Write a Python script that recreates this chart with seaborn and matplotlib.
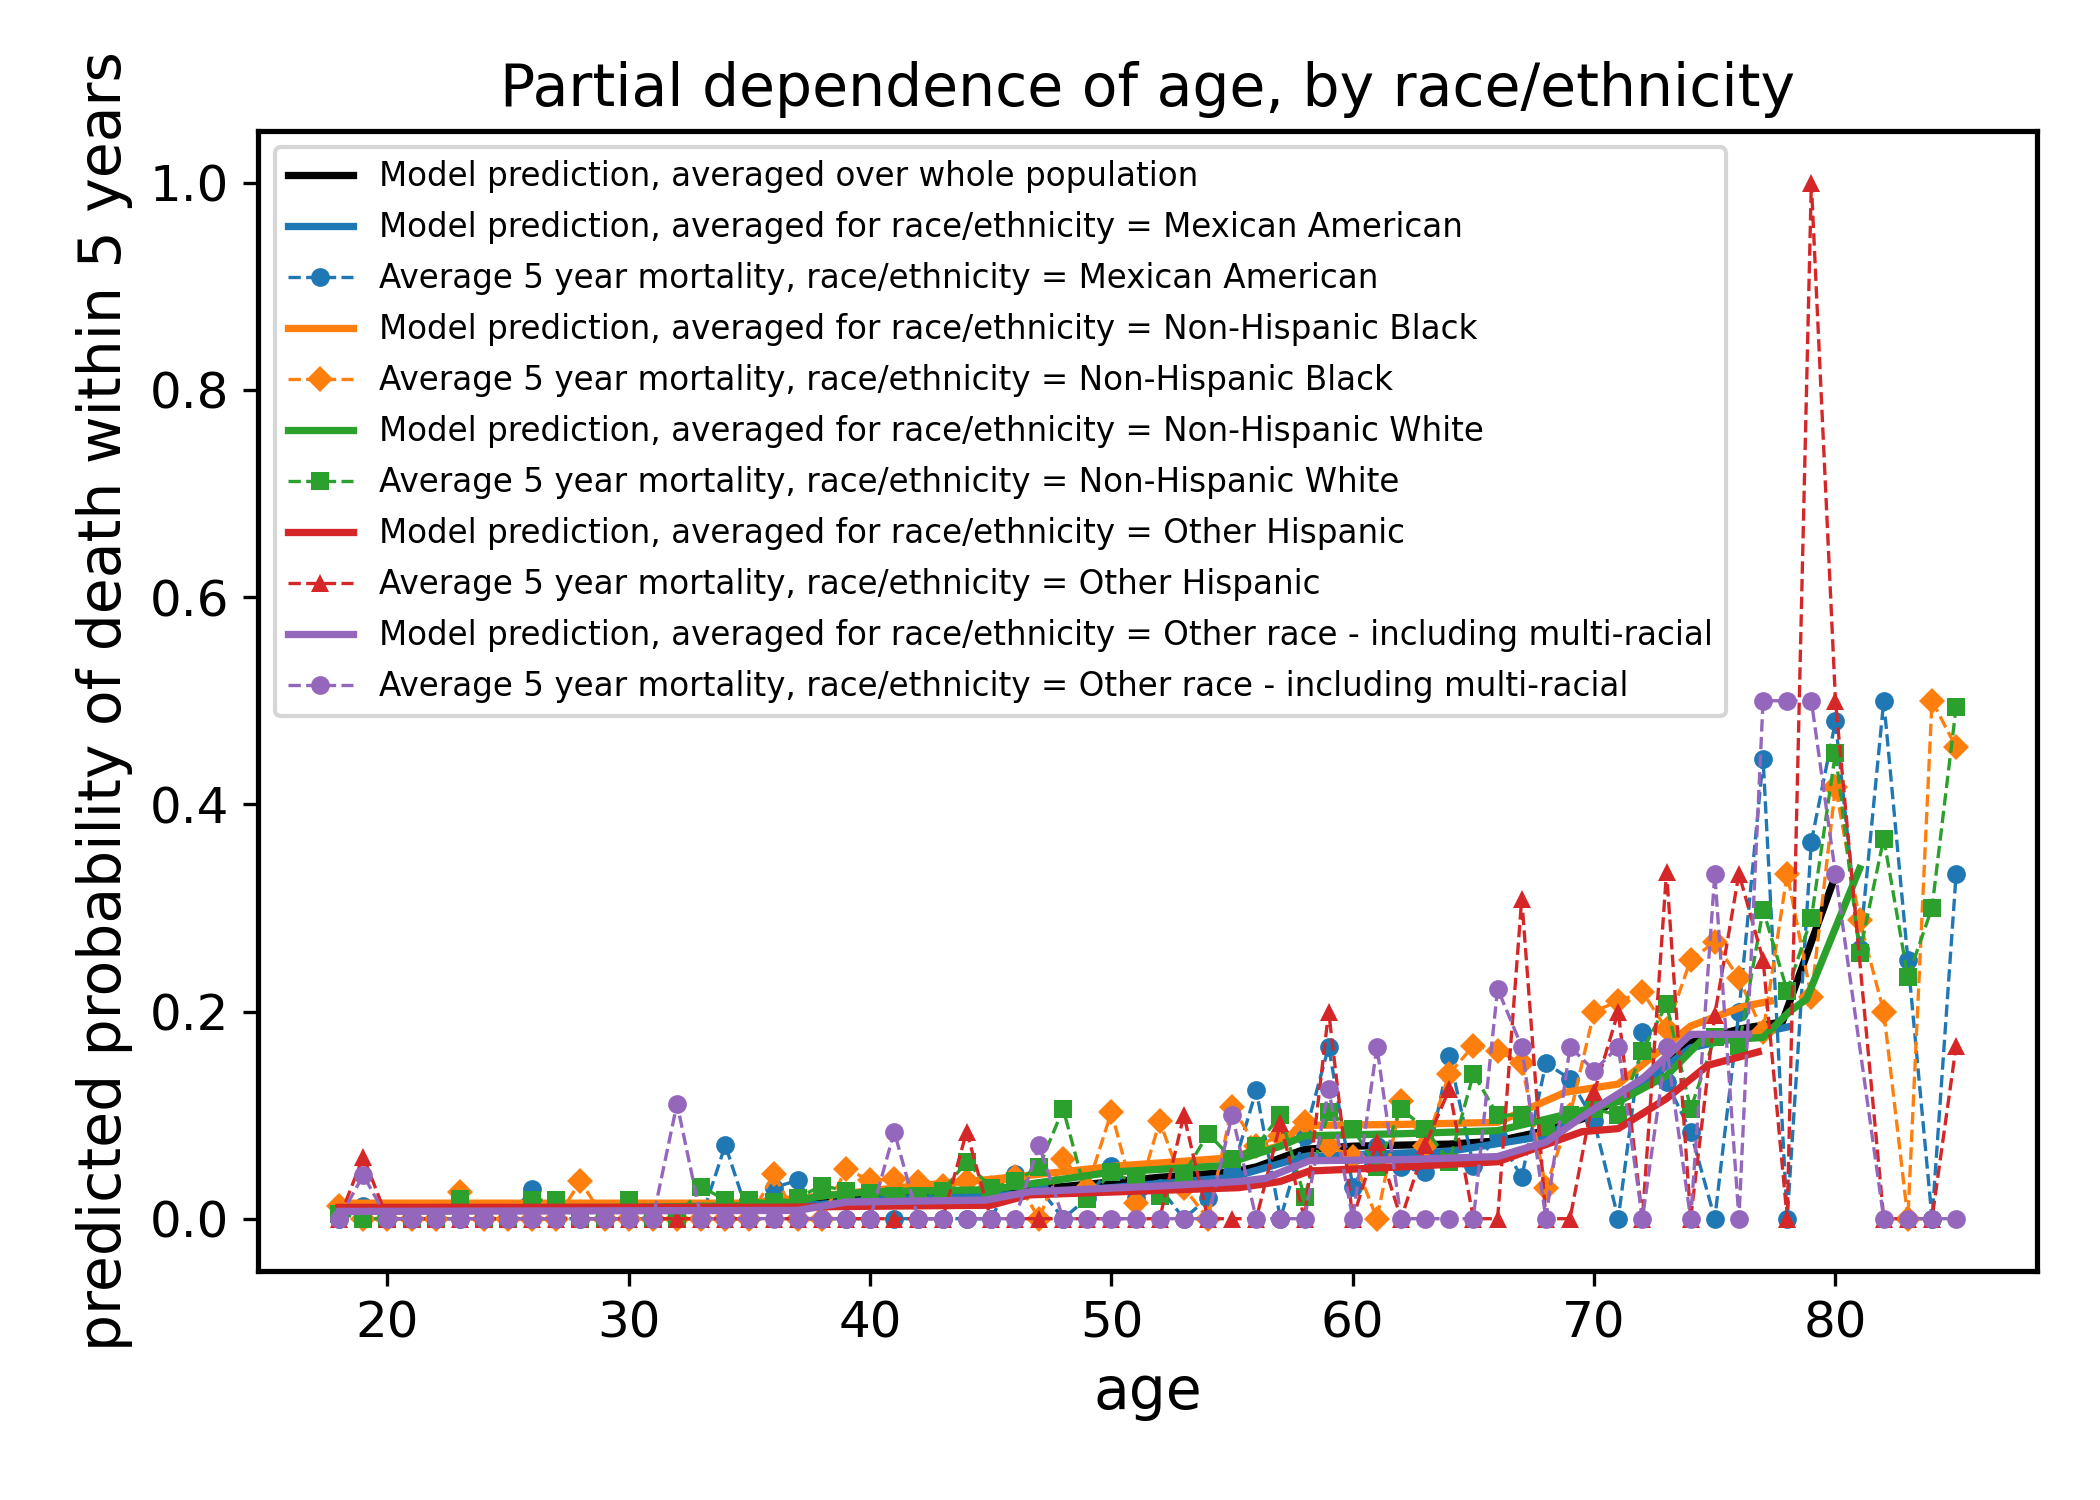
import numpy as np
import pandas as pd
import matplotlib
matplotlib.use("Agg")
import matplotlib.pyplot as plt
import seaborn as sns

ages = list(range(18, 86))

groups = ["Mexican American", "Non-Hispanic Black", "Non-Hispanic White",
          "Other Hispanic", "Other race - including multi-racial"]
colors = ["tab:blue", "tab:orange", "tab:green", "tab:red", "tab:purple"]
markers = ["o", "D", "s", "^", "o"]
nan = np.nan

# observed 5 year mortality per age (18..85), nan = no one of that age in the group
obs_mex = [0, 0.012, 0, 0, 0, 0, 0, 0, 0.029, 0, 0, 0, 0, 0, 0, 0, 0.071, 0, 0.03, 0.037,
           0, 0, 0, 0, 0, 0, 0, 0, 0.043, 0.03, 0, 0.02, 0.051, 0.02, 0.03, 0,
           0.02, 0.045, 0.124, 0, 0.08, 0.166, 0.031, 0.07, 0.05, 0.045, 0.157, 0.051, 0.08,
           0.04, 0.15, 0.135, 0.094, 0, 0.18, 0.132, 0.084, 0, 0.2, 0.444, 0, 0.364, 0.48,
           0.26, 0.5, 0.25, 0, 0.333]
obs_blk = [0.012, 0, 0, 0, 0, 0.026, 0, 0, 0, 0, 0.036, 0, 0, 0, 0, 0, 0, 0, 0.043, 0,
           0, 0.048, 0.037, 0.038, 0.035, 0.032, 0.036, 0.03, 0.04, 0, 0.058, 0.03, 0.103, 0.015,
           0.094, 0.03, 0, 0.108, 0.07, 0.08, 0.093, 0.07, 0.06, 0, 0.114, 0.07, 0.14, 0.167,
           0.162, 0.15, 0.03, 0.1, 0.2, 0.21, 0.219, 0.183, 0.25, 0.267, 0.232, 0.18, 0.333,
           0.214, 0.417, 0.288, 0.2, 0, 0.5, 0.455]
obs_wht = [0.005, 0, 0, 0, 0, 0.019, 0, 0, 0.018, 0.018, 0, 0, 0.018, 0, 0, 0.031, 0.018,
           0.018, 0.016, 0.02, 0.032, 0.027, 0.025, 0.022, 0.022, 0.027, 0.055, 0.03, 0.036,
           0.05, 0.106, 0.019, 0.045, 0.035, 0.022, 0.043, 0.082, 0.058, 0.07, 0.1, 0.021,
           0.103, 0.087, 0.05, 0.106, 0.087, 0.055, 0.14, 0.1, 0.1, 0.089, 0.1, 0.106, 0.1,
           0.162, 0.207, 0.106, 0.175, 0.167, 0.298, 0.22, 0.29, 0.45, 0.256, 0.367, 0.233,
           0.3, 0.494]
obs_oh = [0, 0.06, 0, 0, 0, 0, 0, 0, 0, 0, 0, 0, 0, 0, 0, 0, 0, 0, 0, 0, 0, 0, 0, 0, 0, 0,
          0.084, 0, 0, 0, 0, 0, 0, 0, 0, 0.1, 0, 0, 0, 0.092, 0, 0.2, 0, 0.074, 0, 0.071,
          0.125, 0, 0, 0.309, 0, 0, 0.122, 0.2, 0, 0.335, 0, 0.197, 0.333, 0.25, 0, 1.0,
          0.5, nan, 0, 0, 0, 0.167]
obs_oth = [0, 0.042, 0, 0, 0, 0, 0, 0, 0, 0, 0, 0, 0, 0, 0.111, 0, 0, 0, 0, 0, 0, 0, 0,
           0.084, 0, 0, 0, 0, 0, 0.071, 0, 0, 0, 0, 0, 0, 0, 0.1, 0, 0, 0, 0.125, 0, 0.166,
           0, 0, 0, 0, 0.222, 0.166, 0, 0.166, 0.143, 0.166, 0, 0.166, 0, 0.333, 0, 0.5,
           0.5, 0.5, 0.333, nan, 0, 0, 0, 0]
observed = [obs_mex, obs_blk, obs_wht, obs_oh, obs_oth]

# model predictions (partial dependence)
pd_all_age = [18, 30, 36, 40, 45, 48, 52, 55, 56, 58, 60, 64, 66, 68, 70, 72, 74, 76, 77.8, 79.9]
pd_all = [0.01, 0.01, 0.012, 0.022, 0.025, 0.031, 0.04, 0.045, 0.05, 0.067, 0.07, 0.072,
          0.075, 0.085, 0.1, 0.135, 0.17, 0.183, 0.19, 0.325]

pd_mex_age = [18, 36, 40, 45, 50, 55, 58, 64, 68, 72, 74, 76, 78]
pd_mex = [0.008, 0.01, 0.018, 0.022, 0.03, 0.04, 0.06, 0.065, 0.08, 0.13, 0.165, 0.175, 0.185]
pd_blk_age = [18, 35, 38, 42, 45, 50.3, 54.5, 57, 57.8, 62, 66, 68.8, 71, 74, 76.2, 77.3]
pd_blk = [0.015, 0.015, 0.022, 0.032, 0.038, 0.051, 0.058, 0.07, 0.09, 0.091, 0.093, 0.122,
          0.13, 0.186, 0.205, 0.21]
pd_wht_age = [18, 30, 36, 38, 40, 45, 50, 54.5, 57, 58, 62, 66, 68, 71, 73, 74.4, 77, 78.1,
              78.8, 81.0]
pd_wht = [0.01, 0.011, 0.013, 0.022, 0.026, 0.028, 0.045, 0.051, 0.07, 0.08, 0.082, 0.085,
          0.096, 0.113, 0.138, 0.171, 0.175, 0.2, 0.212, 0.338]
pd_oh_age = [18, 36, 40, 45, 46.6, 55.3, 57, 58.2, 62, 66, 69.5, 71, 73, 74.7, 76.8]
pd_oh = [0.011, 0.011, 0.012, 0.013, 0.023, 0.03, 0.036, 0.046, 0.05, 0.055, 0.084, 0.087,
         0.116, 0.148, 0.161]
pd_oth_age = [18, 37, 39, 44.8, 46.6, 52.4, 55.3, 56.4, 58.2, 62, 66, 68, 70, 72, 74, 76.4]
pd_oth = [0.007, 0.008, 0.016, 0.018, 0.026, 0.032, 0.036, 0.039, 0.056, 0.057, 0.06, 0.074,
          0.106, 0.135, 0.178, 0.178]
model_x = [pd_mex_age, pd_blk_age, pd_wht_age, pd_oh_age, pd_oth_age]
model_y = [pd_mex, pd_blk, pd_wht, pd_oh, pd_oth]

plt.rcParams['axes.linewidth'] = 1.25

fig = plt.figure(figsize=(7, 5), dpi=300)
ax = fig.add_axes([0.123, 0.153, 0.847, 0.7597])

sns.lineplot(x=pd_all_age, y=pd_all, color="black", linewidth=1.75,
             label="Model prediction, averaged over whole population", ax=ax)

for g, c, m, mx, my, ob in zip(groups, colors, markers, model_x, model_y, observed):
    sns.lineplot(x=mx, y=my, color=c, linewidth=1.75,
                 label="Model prediction, averaged for race/ethnicity = " + g, ax=ax)
    sns.lineplot(x=ages, y=ob, color=c, linewidth=0.8, linestyle="--",
                 marker=m, markersize=4.5, markeredgewidth=0,
                 label="Average 5 year mortality, race/ethnicity = " + g, ax=ax)

ax.set_xlim(14.65, 88.35)
ax.set_ylim(-0.05, 1.05)
ax.set_xlabel("age", fontsize=14)
ax.set_ylabel("predicted probability of death within 5 years", fontsize=14)
ax.set_title("Partial dependence of age, by race/ethnicity", fontsize=14)
ax.tick_params(labelsize=12)
ax.legend(loc="upper left", fontsize=7.85, labelspacing=0.55)

fig.savefig("out.png", dpi=300)
